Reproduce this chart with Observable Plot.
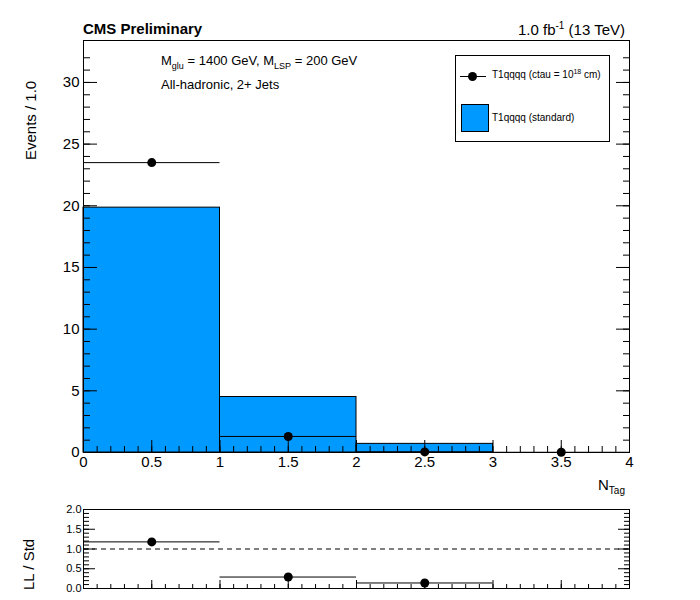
<!DOCTYPE html>
<html><head><meta charset="utf-8">
<script src="https://cdn.jsdelivr.net/npm/d3@7"></script>
<script src="https://cdn.jsdelivr.net/npm/@observablehq/plot@0.6"></script>
<style>
body{margin:0;background:#fff;font-family:"Liberation Sans",Arial,sans-serif}
#wrap{position:relative;width:700px;height:600px}
.t{position:absolute;white-space:nowrap;color:#000}
#main,#ratio{position:absolute;left:0}
#main{top:0}#ratio{top:500px}
</style></head><body>
<div id="wrap">
<div id="main"></div><div id="ratio"></div>
<div class="t" style="left:83px;top:20px;font-size:15px;font-weight:bold">CMS Preliminary</div>
<div class="t" style="right:75px;top:20px;font-size:15px">1.0 fb<sup style="font-size:10px">-1</sup> (13 TeV)</div>
<div class="t" style="left:161px;top:53px;font-size:13px">M<sub style="font-size:9px">glu</sub> = 1400 GeV, M<sub style="font-size:9px">LSP</sub> = 200 GeV</div>
<div class="t" style="left:161px;top:77px;font-size:13px">All-hadronic, 2+ Jets</div>
<div class="t" style="left:455px;top:55px;width:153px;height:85px;border:1px solid #000;background:#fff">
  <div style="position:absolute;left:4px;top:20px;width:26px;border-top:1px solid #000"></div>
  <div style="position:absolute;left:12px;top:16px;width:9px;height:9px;border-radius:50%;background:#000"></div>
  <div style="position:absolute;left:36px;top:12px;font-size:10px">T1qqqq (ctau = 10<sup style="font-size:7px">18</sup> cm)</div>
  <div style="position:absolute;left:5px;top:48px;width:26px;height:26px;background:#0099ff;border:1px solid #000"></div>
  <div style="position:absolute;left:36px;top:56px;font-size:10px">T1qqqq (standard)</div>
</div>
<div class="t" style="left:598px;top:476px;font-size:15px">N<sub style="font-size:10px">Tag</sub></div>
<div class="t" style="left:22px;top:160px;font-size:15px;transform:rotate(-90deg);transform-origin:left top;top:160px">Events / 1.0</div>
<div class="t" style="left:20px;top:590px;font-size:15px;transform:rotate(-90deg);transform-origin:left top">LL / Std</div>
</div>
<script>
const binLo = [0, 1, 2, 3];
const binHi = [1, 2, 3, 4];
const stdVals = [19.85, 4.5, 0.7, 0.0];
const llVals = [23.5, 1.3, 0.05, 0.02];
const ratioVals = [1.18, 0.29, 0.14];

const bins = binLo.map((lo, i) => ({lo, hi: binHi[i], mid: (lo + binHi[i]) / 2, std: stdVals[i], ll: llVals[i]}));
const ratio = ratioVals.map((r, i) => ({lo: binLo[i], hi: binHi[i], mid: (binLo[i] + binHi[i]) / 2, r}));
const font = {fontFamily: "Liberation Sans, Arial, sans-serif", fontSize: "15px", color: "#000", background: "none"};

const main = Plot.plot({
  width: 700, height: 500,
  marginLeft: 83, marginRight: 71, marginTop: 40, marginBottom: 48,
  style: font,
  x: {domain: [0, 4]},
  y: {domain: [0, 33.4]},
  marks: [
    Plot.rectY(bins, {x1: "lo", x2: "hi", y: "std", fill: "#0099ff", stroke: "#000", strokeWidth: 1}),
    Plot.ruleY(bins, {x1: "lo", x2: "hi", y: "ll", stroke: "#000"}),
    Plot.dot(bins, {x: "mid", y: "ll", r: 4.5, fill: "#000"}),
    Plot.frame({stroke: "#000"}),
    Plot.axisX({ticks: d3.range(0, 4.01, 0.5), tickSize: -12, tickFormat: d => d, label: null, tickPadding: 16}),
    Plot.axisX({ticks: d3.range(0, 4.01, 0.1), tickSize: -6, text: null, label: null}),
    Plot.axisY({ticks: d3.range(0, 31, 5), tickSize: -14, label: null, tickPadding: 18}),
    Plot.axisY({ticks: d3.range(0, 33, 1), tickSize: -7, text: null, label: null}),
    Plot.axisY({anchor: "right", ticks: d3.range(0, 31, 5), tickSize: -14, text: null, label: null}),
    Plot.axisY({anchor: "right", ticks: d3.range(0, 33, 1), tickSize: -7, text: null, label: null})
  ]
});
document.getElementById("main").append(main);

const rp = Plot.plot({
  width: 700, height: 100,
  marginLeft: 83, marginRight: 71, marginTop: 9, marginBottom: 12,
  style: {...font, fontSize: "11px"},
  x: {domain: [0, 4]},
  y: {domain: [0, 2]},
  marks: [
    Plot.ruleY([1], {stroke: "#555", strokeDasharray: "5,4", strokeWidth: 1.5}),
    Plot.ruleY(ratio, {x1: "lo", x2: "hi", y: "r", stroke: "#000"}),
    Plot.dot(ratio, {x: "mid", y: "r", r: 4.5, fill: "#000"}),
    Plot.frame({stroke: "#000"}),
    Plot.axisX({ticks: d3.range(0, 4.01, 0.5), tickSize: -8, text: null, label: null}),
    Plot.axisX({ticks: d3.range(0, 4.01, 0.1), tickSize: -4, text: null, label: null}),
    Plot.axisY({ticks: d3.range(0, 2.01, 0.5), tickSize: -12, label: null, tickPadding: 14}),
    Plot.axisY({ticks: d3.range(0, 2.01, 0.1), tickSize: -6, text: null, label: null}),
    Plot.axisY({anchor: "right", ticks: d3.range(0, 2.01, 0.5), tickSize: -12, text: null, label: null}),
    Plot.axisY({anchor: "right", ticks: d3.range(0, 2.01, 0.1), tickSize: -6, text: null, label: null})
  ]
});
document.getElementById("ratio").append(rp);
</script>
</body></html>
